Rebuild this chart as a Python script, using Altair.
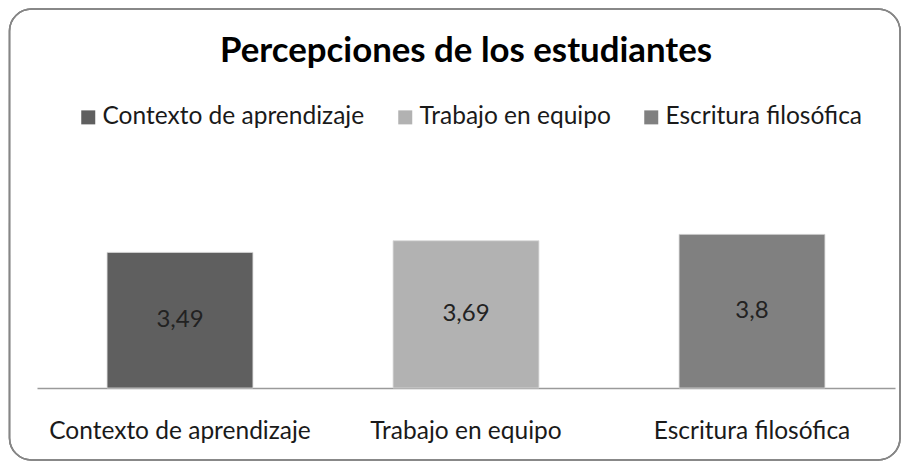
import altair as alt
import pandas as pd

categorias = ["Contexto de aprendizaje", "Trabajo en equipo", "Escritura filosófica"]
valores = [3.49, 3.69, 3.8]
etiquetas = ["3,49", "3,69", "3,8"]
colores = ["#5f5f5f", "#b2b2b2", "#808080"]
titulo = "Percepciones de los estudiantes"

Y_MIN = 1.156
Y_MAX = 5.08
FONT = "Lato"

df = pd.DataFrame({"categoria": categorias, "valor": valores, "etiqueta": etiquetas})

W, H = 858, 228

y_scale = alt.Scale(domain=[Y_MIN, Y_MAX], zero=False)

x_enc = alt.X(
    "categoria:N",
    sort=categorias,
    scale=alt.Scale(paddingInner=0.49, paddingOuter=0.245),
    axis=alt.Axis(
        title=None, labelAngle=0, ticks=False, tickSize=0, labelPadding=50,
        labelBaseline="alphabetic", labelFontSize=24.5, labelFont=FONT,
        labelColor="#1a1a1a", domainColor="#9a9a9a", domainWidth=1.5,
        grid=False, labelLimit=0,
    ),
)

border = alt.Chart(df).mark_rect(
    fill=None, stroke="#868686", strokeWidth=1.5, cornerRadius=22
).encode(
    x=alt.value(-27.5), x2=alt.value(863), y=alt.value(-151), y2=alt.value(H + 72)
)

bars = alt.Chart(df).mark_bar(stroke="#d8d8d8", strokeWidth=0.8).encode(
    x=x_enc,
    y=alt.Y("valor:Q", scale=y_scale, axis=None),
    y2=alt.datum(Y_MIN),
    color=alt.Color(
        "categoria:N",
        sort=categorias,
        scale=alt.Scale(domain=categorias, range=colores),
        legend=alt.Legend(
            title=None, orient="none", direction="horizontal",
            legendX=39, legendY=-55, symbolType="square", symbolSize=196,
            symbolStrokeWidth=0, labelFontSize=24.5, labelFont=FONT,
            labelColor="#1a1a1a", columnPadding=28, labelOffset=2,
            labelLimit=0, padding=0,
        ),
    ),
)

text = alt.Chart(df).transform_calculate(
    mid=f"(datum.valor + {Y_MIN}) / 2"
).mark_text(fontSize=24, font=FONT, color="#222222", baseline="middle").encode(
    x=alt.X("categoria:N", sort=categorias),
    y=alt.Y("mid:Q", scale=y_scale),
    text="etiqueta:N",
)

chart = alt.layer(border, bars, text).properties(
    width=W, height=H,
    background="white",
    title=alt.TitleParams(
        titulo, anchor="middle", fontSize=34.8, font=FONT, fontWeight="bold",
        color="#000000", offset=-96, baseline="bottom",
    ),
    autosize=alt.AutoSizeParams(type="none"),
    padding={"left": 29, "top": 152, "right": 6, "bottom": 74},
).configure_view(strokeWidth=0, stroke="transparent")

chart.save("out.html", embed_options={"renderer": "svg", "actions": False})
